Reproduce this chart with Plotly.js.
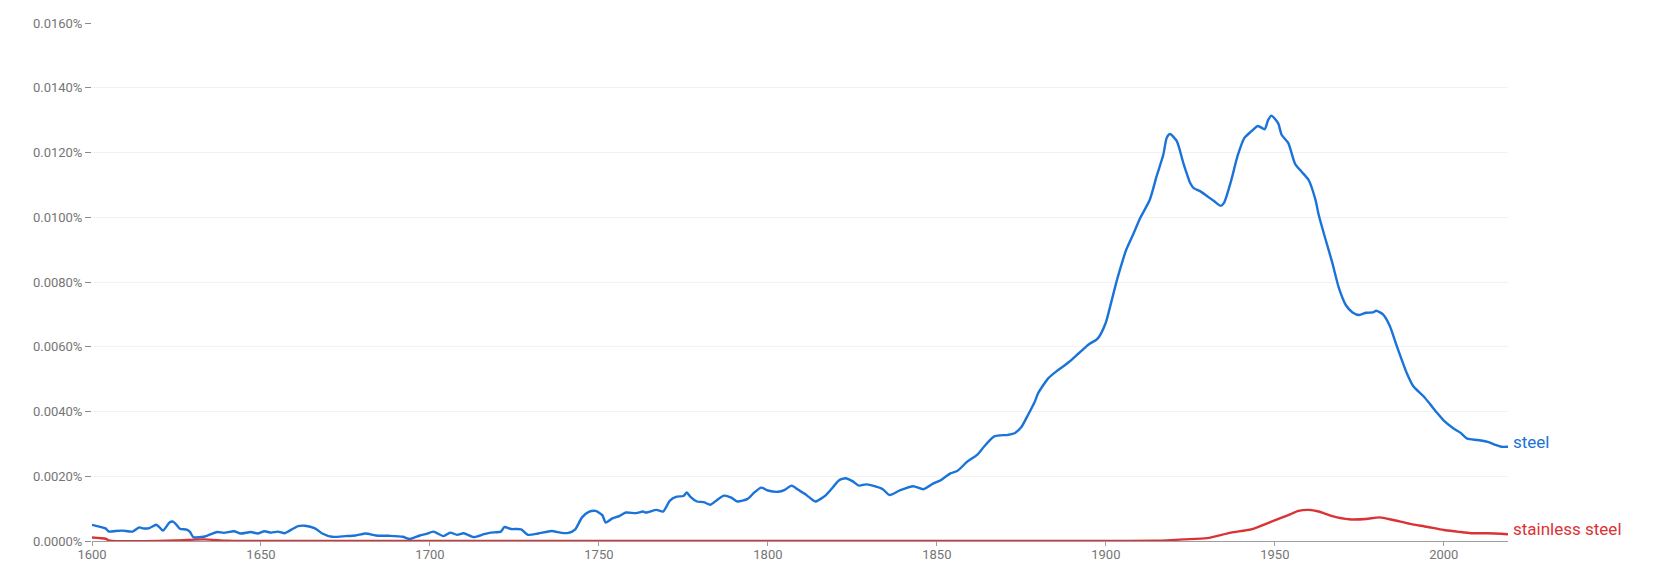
<!DOCTYPE html>
<html>
<head>
<meta charset="utf-8">
<script src="https://cdn.plot.ly/plotly-3.0.1.min.js"></script>
<style>
  html, body { margin: 0; padding: 0; background: #fff; }
  #plotter { width: 1653px; height: 569px; }
</style>
</head>
<body>
<div id="plotter"></div>
<script>
// values are in percent (0.0100 means 0.0100%)
var steelYears = [1600, 1603, 1604, 1605, 1607, 1609, 1612, 1614, 1615, 1617, 1619, 1620, 1621, 1623, 1624,
    1625, 1626, 1628, 1629, 1630, 1633, 1634, 1637, 1639, 1642, 1644, 1647, 1649, 1651, 1653, 1655, 1657,
    1658, 1661, 1663, 1666, 1668, 1671, 1675, 1678, 1681, 1684, 1688, 1692, 1694, 1697, 1699, 1701, 1704,
    1706, 1708, 1710, 1713, 1716, 1718, 1721, 1722, 1724, 1727, 1729, 1732, 1736, 1739, 1741, 1743, 1745,
    1747, 1749, 1751, 1752, 1754, 1756, 1758, 1761, 1763, 1764, 1767, 1769, 1771, 1773, 1775, 1776, 1777,
    1779, 1781, 1783, 1785, 1787, 1789, 1791, 1794, 1796, 1798, 1800, 1803, 1805, 1807, 1809, 1811, 1812,
    1814, 1817, 1819, 1821, 1823, 1825, 1827, 1829, 1831, 1834, 1836, 1839, 1843, 1846, 1849, 1851, 1854,
    1856, 1859, 1862, 1864, 1867, 1871, 1873, 1875, 1877, 1879, 1880, 1883, 1886, 1889, 1892, 1895, 1897,
    1898, 1900, 1901, 1903, 1904, 1906, 1908, 1910, 1913, 1915, 1917, 1918, 1919, 1921, 1923, 1925, 1926,
    1928, 1930, 1932, 1934, 1935, 1937, 1939, 1941, 1943, 1945, 1947, 1948, 1949, 1951, 1952, 1954, 1956,
    1958, 1960, 1962, 1963, 1965, 1967, 1969, 1971, 1973, 1975, 1977, 1979, 1980, 1982, 1984, 1986, 1989,
    1991, 1994, 1996, 1998, 2000, 2003, 2005, 2007, 2010, 2013, 2015, 2017, 2019];
var steelValues = [0.00050, 0.00042, 0.00039, 0.00029, 0.00031, 0.00032, 0.00029, 0.00042, 0.00039, 0.00040,
    0.00050, 0.00042, 0.00032, 0.00058, 0.00060, 0.00050, 0.00038, 0.00035, 0.00028, 0.00012, 0.00013,
    0.00016, 0.00028, 0.00025, 0.00030, 0.00023, 0.00028, 0.00023, 0.00030, 0.00026, 0.00029, 0.00024,
    0.00029, 0.00046, 0.00047, 0.00039, 0.00024, 0.00013, 0.00015, 0.00017, 0.00023, 0.00017, 0.00016,
    0.00013, 0.00006, 0.00017, 0.00022, 0.00029, 0.00015, 0.00026, 0.00019, 0.00024, 0.00012, 0.00021,
    0.00026, 0.00029, 0.00043, 0.00037, 0.00036, 0.00019, 0.00023, 0.00031, 0.00025, 0.00025, 0.00036,
    0.00073, 0.00090, 0.00093, 0.00080, 0.00057, 0.00070, 0.00077, 0.00088, 0.00086, 0.00091, 0.00088,
    0.00096, 0.00091, 0.00125, 0.00137, 0.00139, 0.00150, 0.00137, 0.00122, 0.00120, 0.00112, 0.00127,
    0.00140, 0.00135, 0.00122, 0.00130, 0.00150, 0.00165, 0.00156, 0.00152, 0.00158, 0.00171, 0.00158,
    0.00145, 0.00137, 0.00122, 0.00140, 0.00163, 0.00187, 0.00194, 0.00185, 0.00171, 0.00175, 0.00171,
    0.00160, 0.00142, 0.00156, 0.00169, 0.00160, 0.00178, 0.00187, 0.00209, 0.00216, 0.00245, 0.00267,
    0.00292, 0.00323, 0.00328, 0.00333, 0.00352, 0.00390, 0.00431, 0.00457, 0.00503, 0.00529, 0.00552,
    0.00580, 0.00608, 0.00620, 0.00631, 0.00675, 0.00713, 0.00795, 0.00832, 0.00899, 0.00945, 0.00994,
    0.01054, 0.01126, 0.01193, 0.01245, 0.01257, 0.01235, 0.01165, 0.01105, 0.01090, 0.01080, 0.01065,
    0.01050, 0.01035, 0.01045, 0.01110, 0.01190, 0.01245, 0.01265, 0.01282, 0.01272, 0.01300, 0.01314,
    0.01290, 0.01255, 0.01229, 0.01165, 0.01140, 0.01115, 0.01055, 0.01007, 0.00932, 0.00860, 0.00780,
    0.00729, 0.00706, 0.00698, 0.00705, 0.00706, 0.00711, 0.00700, 0.00665, 0.00605, 0.00520, 0.00478,
    0.00447, 0.00422, 0.00396, 0.00372, 0.00347, 0.00334, 0.00316, 0.00312, 0.00306, 0.00298, 0.00291,
    0.00291];

var stainlessYears = [1600, 1604, 1605, 1606, 1625, 1633, 1640, 1650, 1700, 1800, 1900, 1915, 1918, 1923,
    1930, 1937, 1943, 1949, 1954, 1957, 1960, 1963, 1967, 1972, 1977, 1981, 1985, 1990, 1995, 2000, 2004,
    2008, 2013, 2019];
var stainlessValues = [0.00011, 0.00007, 0.00002, 0.00000, 0.00002, 0.00005, 0.00001, 0.00000, 0.00000,
    0.00000, 0.00000, 0.00001, 0.00002, 0.00005, 0.00009, 0.00026, 0.00036, 0.00060, 0.00080, 0.00093,
    0.00096, 0.00091, 0.00077, 0.00067, 0.00068, 0.00073, 0.00065, 0.00053, 0.00044, 0.00034, 0.00029,
    0.00024, 0.00024, 0.00021];

var seriesNames = ["steel", "stainless steel"];
var seriesColors = ["#1a73d8", "#db3236"];
var yTicks = [0, 0.002, 0.004, 0.006, 0.008, 0.010, 0.012, 0.014, 0.016];
var xTicks = [1600, 1650, 1700, 1750, 1800, 1850, 1900, 1950, 2000];

var steel = {
    x: steelYears,
    y: steelValues,
    mode: 'lines',
    name: seriesNames[0],
    type: 'scatter',
    line: { color: seriesColors[0], width: 2.4, shape: 'spline', smoothing: 0.6 }
};

var stainless = {
    x: stainlessYears,
    y: stainlessValues,
    mode: 'lines',
    name: seriesNames[1],
    type: 'scatter',
    line: { color: seriesColors[1], width: 2.4, shape: 'spline', smoothing: 0.6 }
};

var labelFont = { family: 'Roboto, sans-serif', size: 17 };

var layout = {
    width: 1653,
    height: 569,
    margin: { l: 92, r: 145, t: 23, b: 28 },
    paper_bgcolor: '#ffffff',
    plot_bgcolor: '#ffffff',
    showlegend: false,
    font: { family: 'Roboto, sans-serif', size: 13, color: '#757575' },
    xaxis: {
        range: [1600, 2019],
        tickvals: xTicks,
        ticktext: xTicks.map(String),
        ticks: 'outside',
        ticklen: 4,
        tickcolor: '#9e9e9e',
        ticklabelstandoff: -3,
        showline: true,
        linecolor: '#9e9e9e',
        linewidth: 1,
        showgrid: false,
        zeroline: false,
        fixedrange: true
    },
    yaxis: {
        range: [0, 0.016],
        tickvals: yTicks,
        ticktext: yTicks.map(function (v) { return v.toFixed(4) + '%'; }),
        ticks: 'outside',
        ticklen: 6,
        tickcolor: '#8a8a8a',
        showline: false,
        showgrid: true,
        gridcolor: '#f2f2f2',
        gridwidth: 1,
        zeroline: false,
        fixedrange: true
    },
    annotations: [
        {
            x: steelYears[steelYears.length - 1],
            y: steelValues[steelValues.length - 1],
            xref: 'x', yref: 'y',
            text: seriesNames[0],
            showarrow: false,
            xanchor: 'left',
            yanchor: 'middle',
            xshift: 3,
            yshift: 5,
            font: { family: labelFont.family, size: labelFont.size, color: seriesColors[0] }
        },
        {
            x: stainlessYears[stainlessYears.length - 1],
            y: stainlessValues[stainlessValues.length - 1],
            xref: 'x', yref: 'y',
            text: seriesNames[1],
            showarrow: false,
            xanchor: 'left',
            yanchor: 'middle',
            xshift: 3,
            yshift: 5,
            font: { family: labelFont.family, size: labelFont.size, color: seriesColors[1] }
        }
    ]
};

Plotly.newPlot('plotter', [steel, stainless], layout, { staticPlot: true, displayModeBar: false });
</script>
</body>
</html>
